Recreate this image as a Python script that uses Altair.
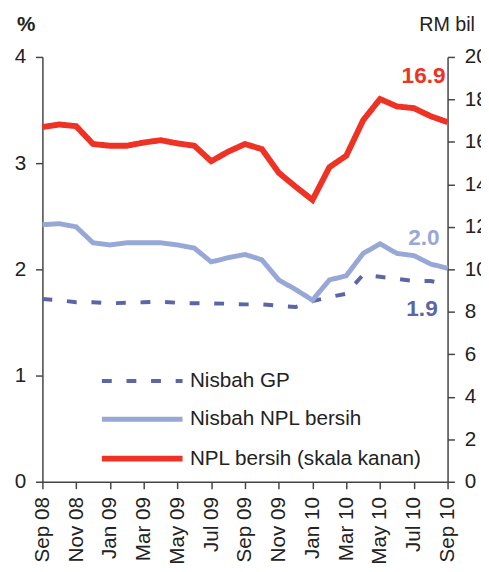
import altair as alt
import pandas as pd

months = ["Sep 08", "Oct 08", "Nov 08", "Dec 08", "Jan 09", "Feb 09", "Mar 09",
          "Apr 09", "May 09", "Jun 09", "Jul 09", "Aug 09", "Sep 09", "Oct 09",
          "Nov 09", "Dec 09", "Jan 10", "Feb 10", "Mar 10", "Apr 10", "May 10",
          "Jun 10", "Jul 10", "Aug 10", "Sep 10"]
tick_months = months[::2]

gp_ratio = [1.72, 1.71, 1.69, 1.69, 1.68, 1.685, 1.69, 1.695, 1.685, 1.68, 1.68,
            1.676, 1.67, 1.67, 1.657, 1.645, 1.70, 1.74, 1.77, 1.95, 1.93, 1.91,
            1.89, 1.89, 1.86]
npl_ratio = [2.42, 2.43, 2.40, 2.25, 2.23, 2.25, 2.25, 2.25, 2.23, 2.20, 2.07,
             2.11, 2.14, 2.09, 1.90, 1.81, 1.71, 1.90, 1.94, 2.15, 2.24, 2.15,
             2.13, 2.05, 2.01]
npl_amount = [16.7, 16.82, 16.74, 15.9, 15.82, 15.82, 15.97, 16.08, 15.93, 15.82,
              15.09, 15.54, 15.9, 15.66, 14.55, 13.89, 13.27, 14.81, 15.35, 17.02,
              18.02, 17.67, 17.59, 17.21, 16.93]

series_names = ["Nisbah GP", "Nisbah NPL bersih", "NPL bersih (skala kanan)"]
series_colors = ["#5C65A5", "#98A8D6", "#EE3224"]
series_dash = [[10, 15], [1, 0], [1, 0]]
series_width = [4, 6, 6]

rows = []
for name, vals in zip(series_names, [gp_ratio, npl_ratio, npl_amount]):
    for m, v in zip(months, vals):
        rows.append({"month": m, "series": name, "value": v})
df = pd.DataFrame(rows)

FONT = "Liberation Sans"
AX = dict(grid=False, domainColor="#444", tickColor="#444", domainWidth=1.5,
          tickWidth=1.5, tickSize=7, labelColor="#222", labelFont=FONT,
          labelFontSize=21, titleFont=FONT, titleColor="#222")

x_enc = alt.X("month:N", sort=months,
              scale=alt.Scale(type="point", padding=0),
              axis=alt.Axis(values=tick_months, labelAngle=-90, labelAlign="right",
                            labelBaseline="middle", labelPadding=8, title=None, **AX))

y_left = alt.Y("value:Q", scale=alt.Scale(domain=[0, 4], nice=False),
               axis=alt.Axis(values=[0, 1, 2, 3, 4], title="%", titleAngle=0,
                             titleX=-17, titleY=-27, titleAlign="center",
                             titleBaseline="alphabetic", titleFontWeight="bold",
                             titleFontSize=21, labelPadding=10, **AX))
y_right = alt.Y("value:Q", scale=alt.Scale(domain=[0, 20], nice=False),
                axis=alt.Axis(orient="right", values=list(range(0, 21, 2)),
                              title="RM bil", titleAngle=0, titleX=-1, titleY=-27,
                              titleAlign="center", titleBaseline="alphabetic",
                              titleFontWeight="normal", titleFontSize=20,
                              labelPadding=10, **AX))

legend = alt.Legend(title=None, orient="none", legendX=91, legendY=319,
                    symbolType="M-8.2,0H8.2", symbolSize=100, labelFontSize=21,
                    labelFont=FONT, labelColor="#222", labelOffset=38,
                    labelLimit=0, rowPadding=17, padding=0)

color_enc = alt.Color("series:N", scale=alt.Scale(domain=series_names, range=series_colors),
                      legend=legend)
dash_enc = alt.StrokeDash("series:N", scale=alt.Scale(domain=series_names, range=series_dash),
                          legend=legend)
width_enc = alt.StrokeWidth("series:N", scale=alt.Scale(domain=series_names, range=series_width),
                            legend=legend)

base = alt.Chart(df)

left_lines = base.transform_filter(
    alt.FieldOneOfPredicate(field="series", oneOf=series_names[:2])
).mark_line(strokeJoin="miter").encode(
    x=x_enc, y=y_left, color=color_enc, strokeDash=dash_enc, strokeWidth=width_enc,
    detail="series:N")

right_line = base.transform_filter(
    alt.datum.series == series_names[2]
).mark_line(strokeJoin="miter").encode(
    x=x_enc, y=y_right, color=color_enc, strokeDash=dash_enc, strokeWidth=width_enc)


def end_label(name, color, dx, dy, yenc):
    return base.transform_filter(
        (alt.datum.series == name) & (alt.datum.month == months[-1])
    ).mark_text(font=FONT, fontSize=23, fontWeight="bold", color=color,
                align="right", baseline="middle", dx=dx, dy=dy).encode(
        x=x_enc, y=yenc, text=alt.Text("value:Q", format=".1f"))


left = alt.layer(
    left_lines,
    end_label(series_names[1], series_colors[1], -8, -31, y_left),
    end_label(series_names[0], series_colors[0], -10, 25, y_left),
)
right = alt.layer(
    right_line,
    end_label(series_names[2], series_colors[2], -2, -47, y_right),
)

chart = alt.layer(left, right).resolve_scale(y="independent").properties(
    width=412, height=432,
    autosize=alt.AutoSizeParams(type="none"),
    padding={"left": 35, "top": 45, "right": 34, "bottom": 87},
    background="white",
).configure_view(stroke=None)

chart.save("out.html", embed_options={"renderer": "svg", "actions": False})
